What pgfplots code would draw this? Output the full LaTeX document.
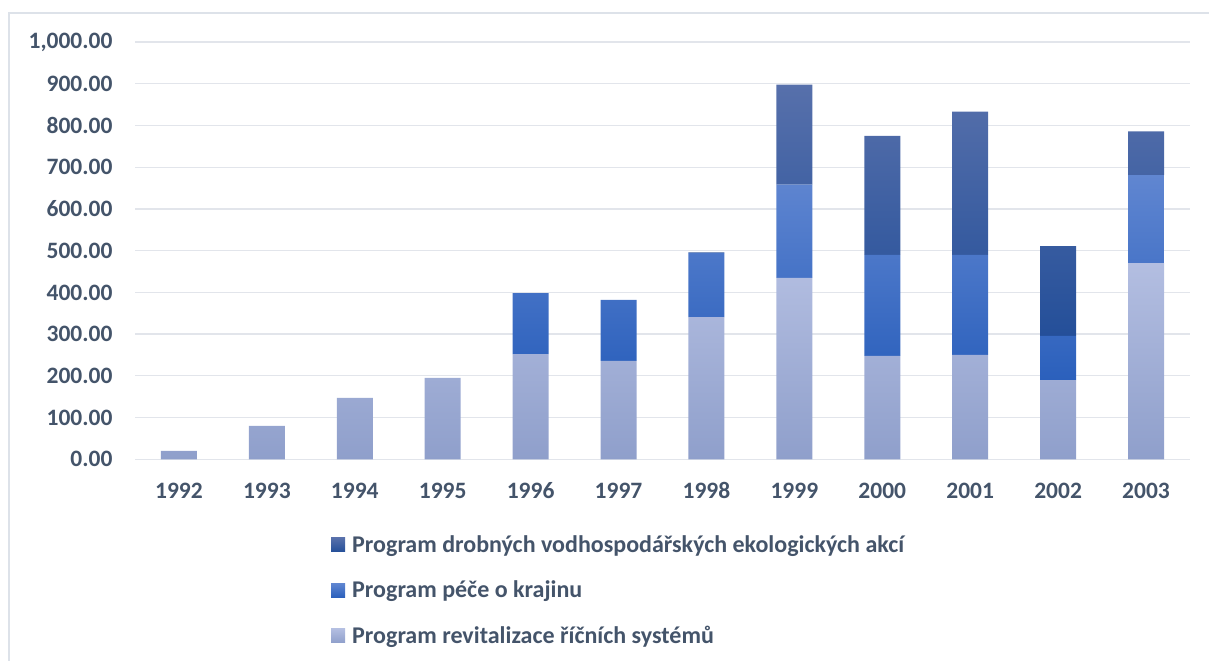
\documentclass[border=0pt]{standalone}
\usepackage{pgfplots}
\pgfplotsset{compat=1.18}
\usepackage{pgfplotstable}
\usepackage{fontspec}
\setmainfont{Carlito}
\definecolor{txtc}{HTML}{44546A}
\definecolor{gridc}{HTML}{E2E5EB}
\definecolor{framec}{HTML}{DDE2E9}
\definecolor{lightT}{HTML}{B3BEE1}
\definecolor{lightB}{HTML}{8F9FCB}
\definecolor{midT}{HTML}{6086D1}
\definecolor{midB}{HTML}{2B60BC}
\definecolor{darkT}{HTML}{5770AB}
\definecolor{darkB}{HTML}{244F99}
\pgfplotstableread{
x rev pece drob
0 20 0 0
1 80 0 0
2 147 0 0
3 195 0 0
4 252 146 0
5 236 146 0
6 341 153 2
7 435 223 240
8 248 242 285
9 250 240 343
10 190 106 215
11 470 211 105
}\data
\begin{document}
\begin{tikzpicture}
\useasboundingbox (-135bp,-201.7bp) rectangle (1074bp,459.3bp);
\draw[framec, line width=1.5bp] (-126bp,-205bp) -- (-126bp,446.3bp) -- (1080bp,446.3bp);
\begin{axis}[
  anchor=south west, at={(0,0)},
  scale only axis, width=1055bp, height=417.3bp,
  xmin=-0.5, xmax=11.5, ymin=0, ymax=1000,
  ybar stacked, bar width=36bp,
  xtick=data,
  xticklabels={1992,1993,1994,1995,1996,1997,1998,1999,2000,2001,2002,2003},
  ytick={0,100,...,1000},
  ymajorgrids, xmajorgrids=false,
  grid style={draw=gridc, line width=1.3bp},
  axis line style={draw=none},
  tick style={draw=none},
  major tick length=0pt,
  xticklabel style={font=\fontsize{23.5bp}{27bp}\selectfont\bfseries, text=txtc, yshift=-24bp, text height=12bp, text depth=0pt},
  yticklabel style={font=\fontsize{23.5bp}{27bp}\selectfont\bfseries, text=txtc, xshift=-19bp},
  /pgf/number format/.cd, fixed, fixed zerofill, precision=2, 1000 sep={,}, assume math mode=true,
  /pgfplots/.cd,
  reverse legend,
  legend style={at={(0.1858,-0.178)}, anchor=north west, draw=none, fill=none,
    font=\fontsize{24bp}{28bp}\selectfont\bfseries, text=txtc,
    row sep=23bp, inner sep=0pt, /tikz/every even column/.append style={column sep=0pt}},
  legend cell align=left,
  legend image code/.code={\path[#1] (0bp,-7bp) rectangle (14bp,7bp); \path (19bp,0bp);},
]
\addplot[draw=none, top color=lightT, bottom color=lightB] table[x=x,y=rev] {\data};
\addplot[draw=none, top color=midT, bottom color=midB] table[x=x,y=pece] {\data};
\addplot[draw=none, top color=darkT, bottom color=darkB] table[x=x,y=drob] {\data};
\legend{Program revitalizace říčních systémů, Program péče o krajinu, Program drobných vodhospodářských ekologických akcí}
\end{axis}
\end{tikzpicture}
\end{document}
